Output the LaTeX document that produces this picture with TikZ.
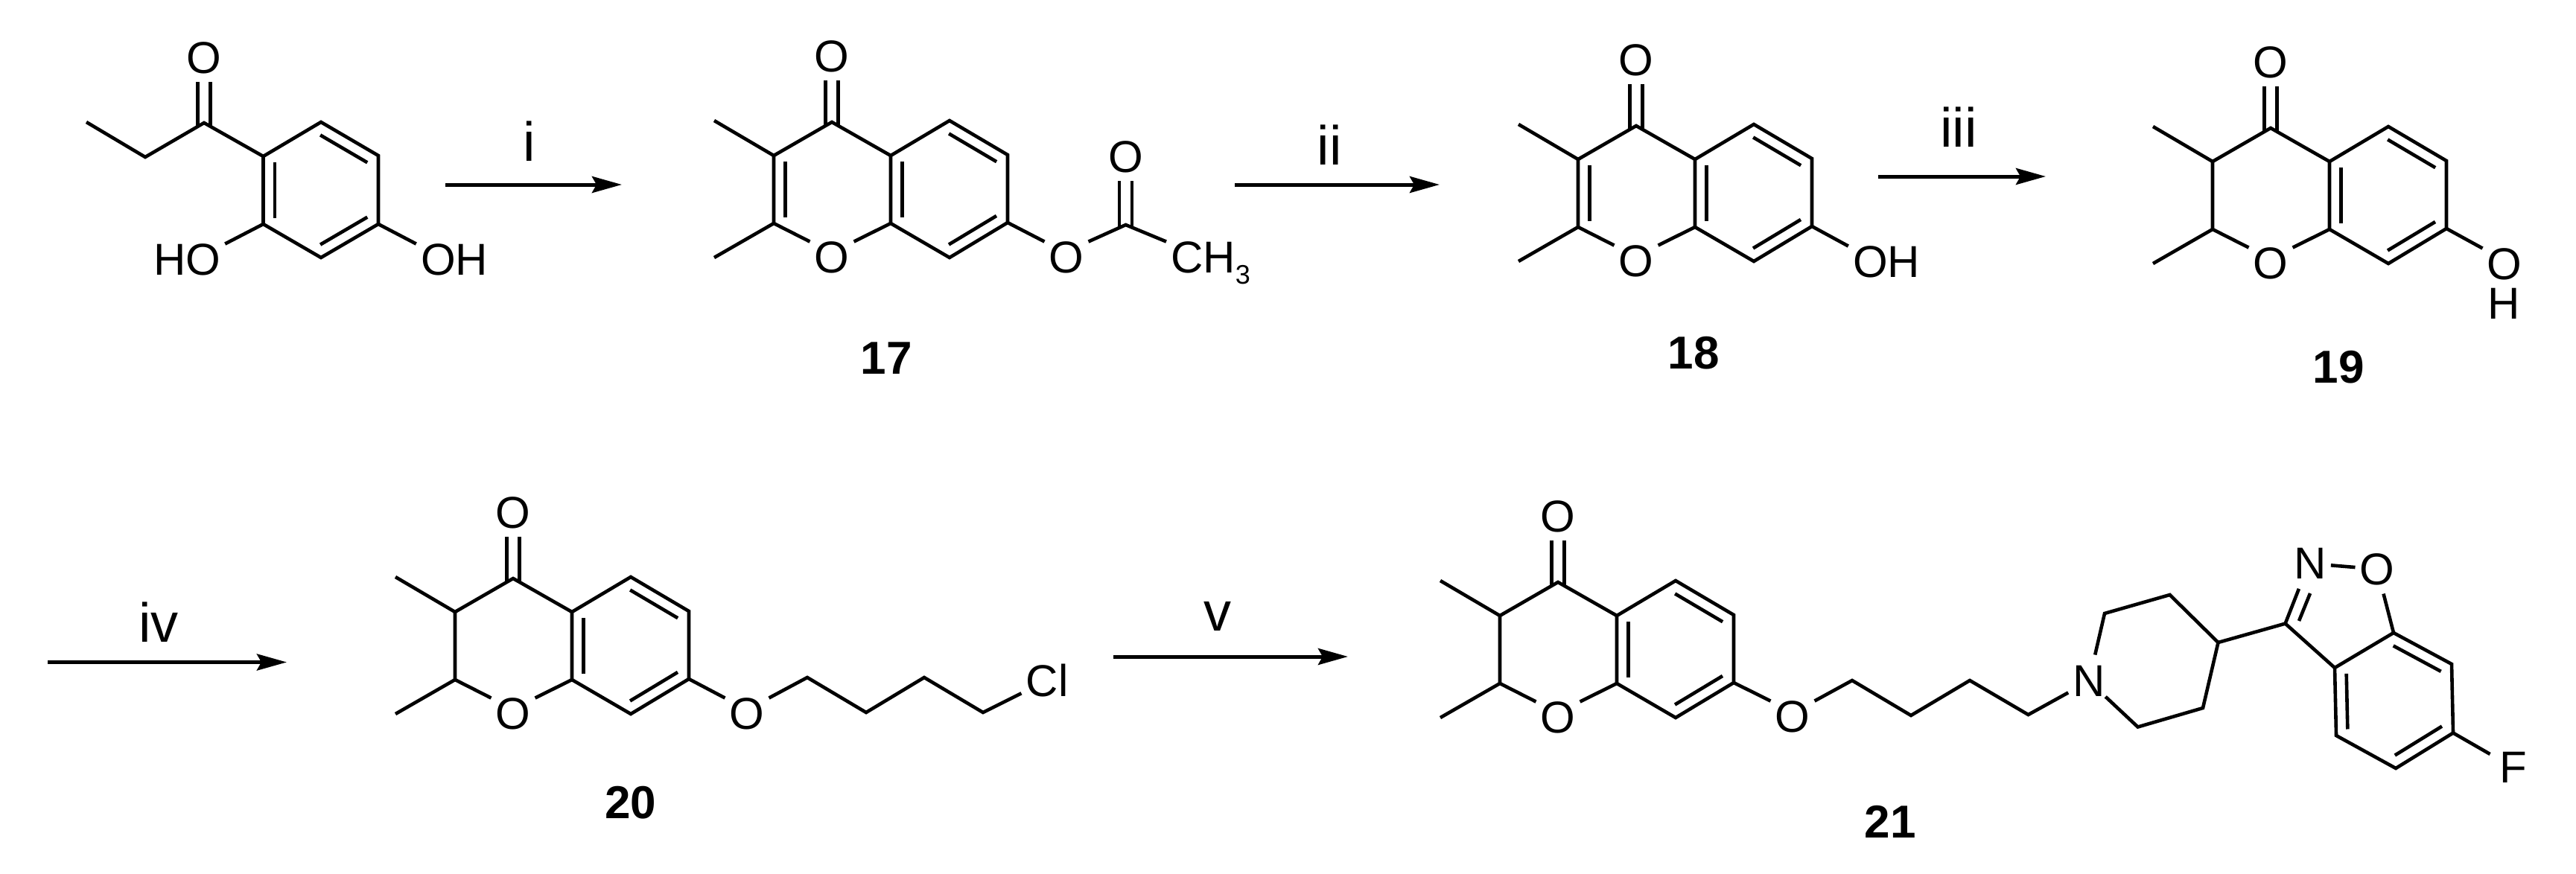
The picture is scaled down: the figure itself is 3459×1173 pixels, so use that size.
\documentclass[tikz,border=0pt]{standalone}
\usepackage{fontspec}
\setmainfont{Liberation Sans}
\usetikzlibrary{arrows.meta,calc}

\newcommand{\ringbond}[2]{\draw[bond] ($(#1)!.09!(#2)!15.5pt!90:(#2)$) -- ($(#2)!.09!(#1)!15.5pt!-90:(#1)$);}
\newcommand{\cobond}[2]{%
  \draw[bond,shorten >=11pt] ([xshift=-8.5pt,yshift=-5pt]#1) -- ([xshift=-8.5pt]#2.south);
  \draw[bond,shorten >=11pt] ([xshift=8.5pt,yshift=-5pt]#1) -- ([xshift=8.5pt]#2.south);}

\tikzset{
  bond/.style={line width=4.6pt},
  rxn/.style={line width=5pt,-{Stealth[length=40pt,width=22pt,inset=6pt]}},
  atom/.style={font=\fontsize{60}{70}\selectfont,inner xsep=6pt,inner ysep=0pt,minimum height=38pt},
  cond/.style={font=\fontsize{74}{84}\selectfont,inner sep=0pt},
  cpd/.style={font=\fontsize{62}{72}\selectfont\bfseries,inner sep=0pt},
  chromanone/.pic={
    \coordinate (-c4) at (0,0);
    \coordinate (-c3) at (-78,45);
    \coordinate (-c2) at (-78,136);
    \coordinate (-me3) at (-158,-2);
    \coordinate (-me2) at (-158,182);
    \coordinate (-c4a) at (79,45);
    \coordinate (-c5) at (158,-2);
    \coordinate (-c6) at (236,44);
    \coordinate (-c7) at (236,135);
    \coordinate (-c8) at (158,182);
    \coordinate (-c8a) at (79,136);
    \node[atom] (-o4) at (0,-88) {O};
    \node[atom] (-o1) at (0,182) {O};
    \cobond{-c4}{-o4}
    \draw[bond] (-me3) -- (-c3) -- (-c4) -- (-c4a);
    \draw[bond] (-c4a) -- (-c5) -- (-c6) -- (-c7) -- (-c8) -- (-c8a) -- cycle;
    \draw[bond] (-c3) -- (-c2) -- (-me2);
    \draw[bond] (-c2) -- (-o1.north west);
    \draw[bond] (-c8a) -- (-o1.north east);
    \ringbond{-c4a}{-c8a}
    \ringbond{-c8}{-c7}
    \ringbond{-c6}{-c5}
  }
}

\begin{document}
\begin{tikzpicture}[x=1pt,y=-1pt]
  \useasboundingbox (0,0) rectangle (3459,1173);

  % starting phenol
  \coordinate (me) at (116,164);
  \coordinate (ch) at (195,211);
  \coordinate (co) at (274,165);
  \coordinate (a1) at (353.5,210);
  \coordinate (a2) at (431,164);
  \coordinate (a3) at (508,209);
  \coordinate (a4) at (508,301);
  \coordinate (a5) at (431,346);
  \coordinate (a6) at (353.5,301);
  \node[atom] (oa) at (274,78) {O};
  \node[atom] (hoa) at (251,349) {HO};
  \node[atom] (oha) at (610,349) {OH};
  \draw[bond] (me) -- (ch) -- (co) -- (a1);
  \draw[bond] (a1) -- (a2) -- (a3) -- (a4) -- (a5) -- (a6) -- cycle;
  \cobond{co}{oa}
  \draw[bond] (a6) -- (hoa.north east);
  \draw[bond] (a4) -- (oha.north west);
  \ringbond{a1}{a6}
  \ringbond{a5}{a4}
  \ringbond{a3}{a2}

  % 17
  \pic (m17) at (1117,164) {chromanone};
  \ringbond{m17-c3}{m17-c2}
  \node[atom] (o17) at (1432,346) {O};
  \coordinate (ac) at (1511.6,302);
  \node[atom] (oac) at (1511.6,211) {O};
  \node[atom,anchor=west] (ch3) at (1566,346) {CH\smash{\raisebox{-15pt}{\fontsize{36}{40}\selectfont 3}}};
  \draw[bond] (m17-c7) -- (o17.north west);
  \draw[bond] (o17.north east) -- (ac) -- (ch3.north west);
  \cobond{ac}{oac}
  \node[cpd] (n17) at (1190,481) {17};

  % 18
  \pic (m18) at (2197,169) {chromanone};
  \ringbond{m18-c3}{m18-c2}
  \node[atom] (oh18) at (2533,352) {OH};
  \draw[bond] (m18-c7) -- (oh18.north west);
  \node[cpd] (n18) at (2274,474) {18};

  % 19
  \pic (m19) at (3049,172) {chromanone};
  \node[atom] (o19) at (3363,355) {O};
  \node[atom] (h19) at (3362,408) {H};
  \draw[bond] (m19-c7) -- (o19.north west);
  \node[cpd] (n19) at (3140,493) {19};

  % 20
  \pic (m20) at (689,777) {chromanone};
  \node[atom] (o20) at (1003,959) {O};
  \coordinate (b1) at (1084,910);
  \coordinate (b2) at (1163,957);
  \coordinate (b3) at (1241,910);
  \coordinate (b4) at (1320,957);
  \node[atom] (cl) at (1406,914) {Cl};
  \draw[bond] (m20-c7) -- (o20.north west);
  \draw[bond] (o20.north east) -- (b1) -- (b2) -- (b3) -- (b4) -- (cl);
  \node[cpd] (n20) at (847,1078) {20};

  % 21
  \pic (m21) at (2092,782) {chromanone};
  \node[atom] (o21) at (2407,963) {O};
  \coordinate (d1) at (2487,914);
  \coordinate (d2) at (2566,961);
  \coordinate (d3) at (2645,914);
  \coordinate (d4) at (2723.5,960);
  \node[atom] (pn) at (2805,915) {N};
  \coordinate (p1) at (2826,824);
  \coordinate (p2) at (2913.5,799);
  \coordinate (p3) at (2978.5,863);
  \coordinate (p4) at (2958,951);
  \coordinate (p5) at (2870.6,976.5);
  \draw[bond] (m21-c7) -- (o21.north west);
  \draw[bond] (o21.north east) -- (d1) -- (d2) -- (d3) -- (d4) -- (pn);
  \draw[bond,shorten <=15pt] (pn) -- (p1) -- (p2) -- (p3) -- (p4) -- (p5) -- (pn);
  \coordinate (i3) at (3068.6,837.6);
  \node[atom] (in) at (3102,757) {N};
  \node[atom] (io) at (3192,764.5) {O};
  \coordinate (e1) at (3135,897);
  \coordinate (e2) at (3214,850);
  \coordinate (e3) at (3292,892);
  \coordinate (e4) at (3294,984.5);
  \coordinate (e5) at (3217,1032);
  \coordinate (e6) at (3137,988);
  \coordinate (ia) at (3087,834);
  \coordinate (ib) at (3102,797);
  \node[atom] (fl) at (3375,1031) {F};
  \draw[bond] (p3) -- (i3) -- (e1);
  \draw[bond] (e1) -- (e2) -- (e3) -- (e4) -- (e5) -- (e6) -- cycle;
  \draw[bond,shorten >=14pt] (i3) -- ([xshift=-10pt]in.south);
  \draw[bond] (ia) -- (ib);
  \draw[bond] (in) -- (io);
  \draw[bond,shorten <=12pt] (io) -- (e2);
  \draw[bond,shorten >=8pt] (e4) -- (fl);
  \ringbond{e1}{e6}
  \ringbond{e5}{e4}
  \ringbond{e3}{e2}
  \node[cpd] (n21) at (2538,1104) {21};

  % reaction arrows
  \coordinate (ar1s) at (598,248);
  \coordinate (ar1e) at (835,248);
  \coordinate (ar2s) at (1658,248);
  \coordinate (ar2e) at (1933,248);
  \coordinate (ar3s) at (2522,237);
  \coordinate (ar3e) at (2747,237);
  \coordinate (ar4s) at (64,889.5);
  \coordinate (ar4e) at (385,889.5);
  \coordinate (ar5s) at (1495,882);
  \coordinate (ar5e) at (1810,882);
  \draw[rxn] (ar1s) -- (ar1e);
  \draw[rxn] (ar2s) -- (ar2e);
  \draw[rxn] (ar3s) -- (ar3e);
  \draw[rxn] (ar4s) -- (ar4e);
  \draw[rxn] (ar5s) -- (ar5e);
  \node[cond] (r1) at (711,190) {i};
  \node[cond] (r2) at (1785,195) {ii};
  \node[cond] (r3) at (2630,171) {iii};
  \node[cond] (r4) at (213,836) {iv};
  \node[cond] (r5) at (1635,828) {v};
\end{tikzpicture}
\end{document}
